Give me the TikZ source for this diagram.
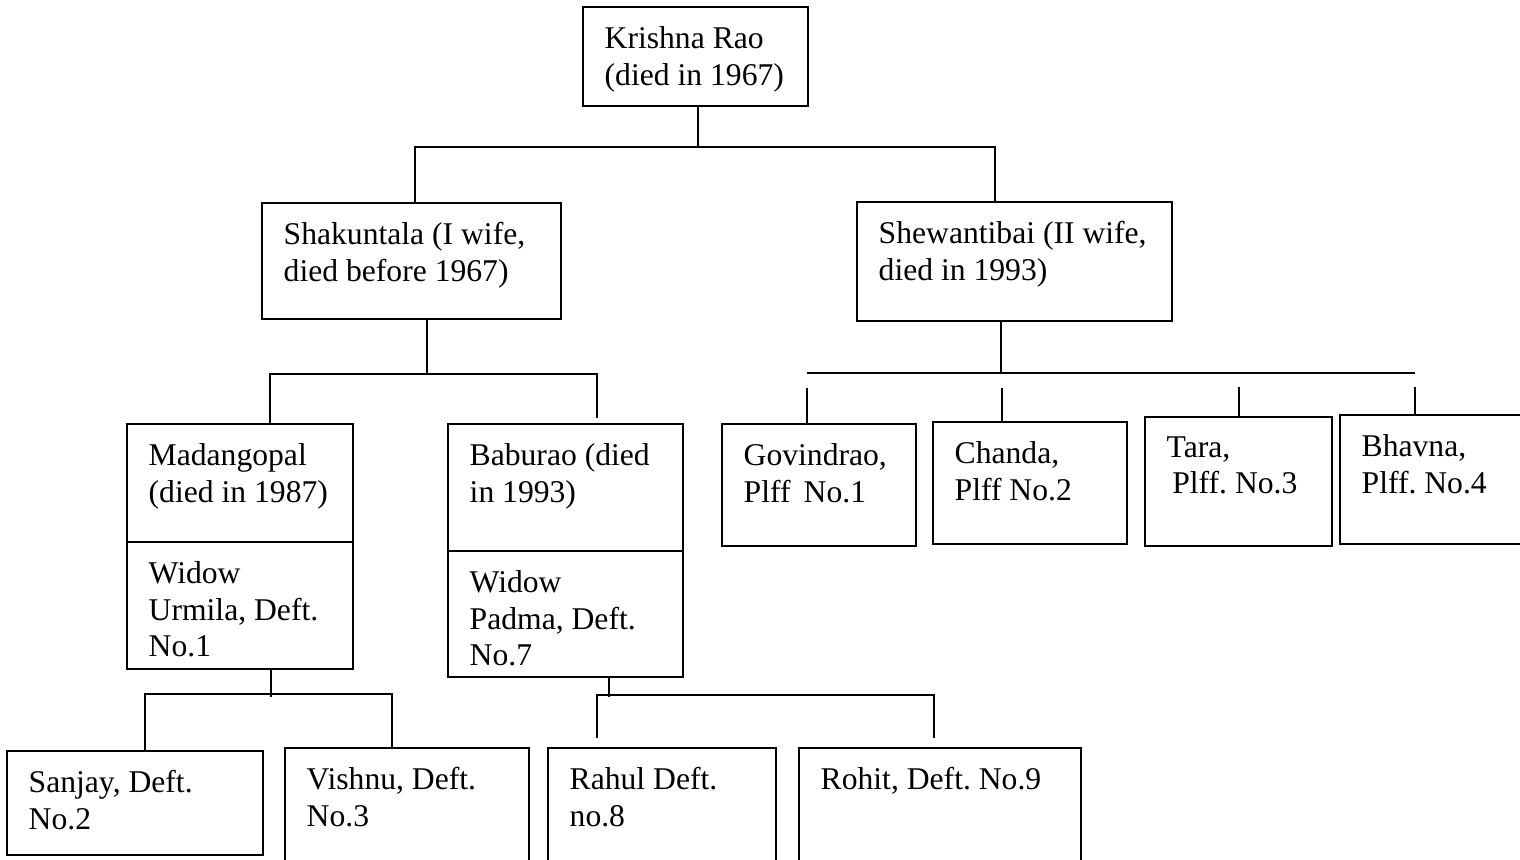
\documentclass[tikz,border=0pt]{standalone}
\usepackage{fontspec}
\setmainfont{Liberation Serif}
\usetikzlibrary{positioning,calc}
\frenchspacing

\tikzset{
    member/.style={draw, line width=0.7pt, anchor=north west, inner sep=0pt, outer sep=0pt},
    membertext/.style={anchor=north west, align=left, inner sep=0pt, font=\fontsize{9}{10.4}\selectfont},
    link/.style={line width=0.6pt}
}

\begin{document}
\begin{tikzpicture}[x=0.1mm, y=-0.1mm]
    \fill[white] (0,0) rectangle (1520,860);
    \useasboundingbox (0,0) rectangle (1520,860);
    % boxes with names using foreach loop
    \foreach \id/\l/\t/\w/\h/\txt in {
        kr/583/7/225/99/{Krishna Rao\\(died in 1967)},
        shak/262/203/299/116/{Shakuntala (I wife,\\died before 1967)},
        shew/857/202/315/119/{Shewantibai (II wife,\\died in 1993)},
        mad/127/424/226/118/{Madangopal\\(died in 1987)},
        madw/127/542/226/127/{Widow\\Urmila, Deft.\\No.1},
        bab/448/424/235/127/{Baburao (died\\in 1993)},
        babw/448/551/235/126/{Widow\\Padma, Deft.\\No.7},
        gov/722/424/194/122/{Govindrao,\\Plff \,No.1},
        cha/933/422/194/122/{Chanda,\\Plff No.2},
        tara/1145/417/187/129/{Tara,\\\hspace*{1.6pt}Plff. No.3},
        bha/1340/415/200/129/{Bhavna,\\Plff. No.4},
        san/7/751/256/104/{Sanjay, Deft.\\No.2},
        vis/285/748/244/140/{Vishnu, Deft.\\No.3},
        rah/548/748/228/140/{Rahul Deft.\\no.8},
        roh/799/748/282/140/{Rohit, Deft. No.9}
    } {
        \node[member, minimum width=\w*0.1mm, minimum height=\h*0.1mm] (\id) at (\l,\t) {};
        \node[membertext] (\id-text) at ($(\id.north west)+(21,19)$) {\txt};
    }

    % Krishna Rao to the two wives
    \draw[link] ($(kr.south west)+(115,0)$) -- ++(0,41) coordinate (kr-bar);
    \draw[link] ($(shak.north west)+(153,0)$) |- (kr-bar) -| ($(shew.north west)+(138,0)$);

    % Shakuntala to her sons
    \draw[link] ($(shak.south west)+(165,0)$) -- ++(0,55) coordinate (shak-bar);
    \draw[link] ($(mad.north west)+(143,0)$) |- (shak-bar) -| ($(bab.north west)+(149,-6)$);

    % Shewantibai to her children
    \draw[link] ($(shew.south west)+(144,0)$) -- ++(0,52) coordinate (shew-bar);
    \coordinate (gov-top) at ($(gov.north west)+(85,-36)$);
    \coordinate (cha-top) at ($(cha.north west)+(69,-34)$);
    \coordinate (tara-top) at ($(tara.north west)+(94,-30)$);
    \coordinate (bha-top) at ($(bha.north west)+(75,-28)$);
    \draw[link] (gov-top |- shew-bar) -- (bha-top |- shew-bar);
    \foreach \c in {gov,cha,tara,bha} {
        \draw[link] (\c-top) -- (\c-top |- \c.north);
    }

    % Urmila to Sanjay and Vishnu
    \draw[link] ($(madw.south west)+(144,0)$) -- ++(0,28);
    \coordinate (madw-bar) at ($(madw.south west)+(144,25)$);
    \draw[link] ($(san.north west)+(138,0)$) |- (madw-bar) -| ($(vis.north west)+(107,0)$);

    % Padma to Rahul and Rohit
    \draw[link] ($(babw.south west)+(161,0)$) -- ++(0,20);
    \coordinate (babw-bar) at ($(babw.south west)+(161,18)$);
    \draw[link] ($(rah.north west)+(49,-10)$) |- (babw-bar) -| ($(roh.north west)+(135,-10)$);
\end{tikzpicture}
\end{document}
